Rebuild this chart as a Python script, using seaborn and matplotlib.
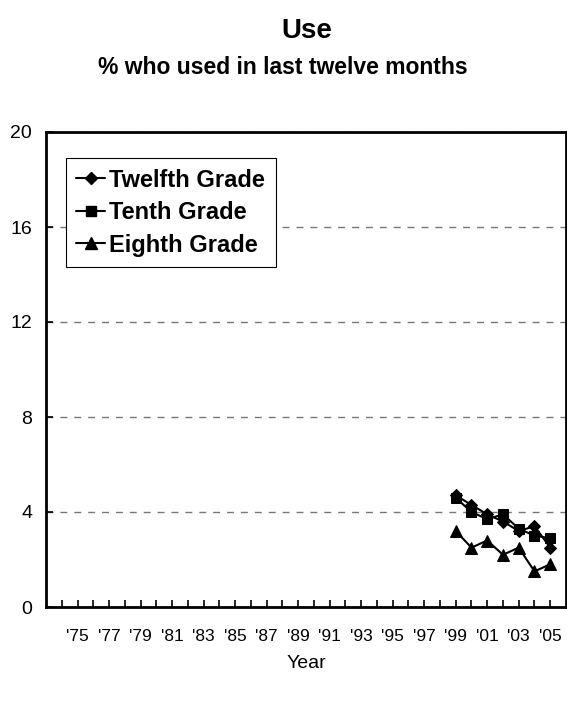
import matplotlib
matplotlib.use("Agg")
import matplotlib.pyplot as plt
import seaborn as sns
import pandas as pd
from matplotlib.lines import Line2D

years = [1999, 2000, 2001, 2002, 2003, 2004, 2005]
twelfth = [4.7, 4.3, 3.9, 3.6, 3.2, 3.4, 2.5]
tenth = [4.6, 4.0, 3.7, 3.9, 3.3, 3.0, 2.9]
eighth = [3.2, 2.5, 2.8, 2.2, 2.5, 1.5, 1.8]
series_names = ["Twelfth Grade", "Tenth Grade", "Eighth Grade"]
tick_years = list(range(1975, 2006, 2))
tick_labels = ["'%02d" % (y % 100) for y in tick_years]

sns.set_style("white")
plt.rcParams['font.family'] = ['Liberation Sans', 'DejaVu Sans']
plt.rcParams['text.color'] = 'black'
plt.rcParams['axes.labelcolor'] = 'black'
plt.rcParams['xtick.color'] = 'black'
plt.rcParams['ytick.color'] = 'black'

rows = []
for name, vals in zip(series_names, [twelfth, tenth, eighth]):
    for y, v in zip(years, vals):
        rows.append({"Year": y, "Value": v, "Grade": name})
df = pd.DataFrame(rows)

fig = plt.figure(figsize=(5.67, 7.02), dpi=100)
ax = fig.add_axes([46/567, 1-607/702, 520/567, 475/702])

markers = {"Twelfth Grade": "D", "Tenth Grade": "s", "Eighth Grade": "^"}
sizes_ms = {"Twelfth Grade": 6.5, "Tenth Grade": 7.5, "Eighth Grade": 8.5}
sns.lineplot(data=df, x="Year", y="Value", style="Grade", markers=markers,
             dashes=False, color="black", linewidth=1.5, markersize=7,
             markeredgecolor="black", ax=ax, legend=False)
for line, name in zip(ax.get_lines(), series_names):
    line.set_markersize(sizes_ms[name])

ax.set_xlim(1973, 2006)
ax.set_ylim(0, 20)
ax.set_yticks([0, 4, 8, 12, 16, 20])
ax.set_xticks(list(range(1974, 2006)), minor=True)
ax.set_xticks(tick_years)
ax.set_xticklabels(tick_labels)
ax.tick_params(axis='x', which='both', direction='in', length=5, width=1.2,
               labelsize=12.5, pad=16, color='black', bottom=True)
ax.tick_params(axis='y', direction='in', length=5, width=1.2, labelsize=14,
               pad=10, color='black', left=True)
ax.yaxis.grid(True, linestyle=(0, (5, 5)), color='#777777', linewidth=1)
ax.set_axisbelow(True)
for s in ax.spines.values():
    s.set_color('black')
    s.set_linewidth(2)
ax.set_xlabel("Year", fontsize=14, labelpad=8)
ax.set_ylabel("")

handles = [Line2D([], [], color='black', lw=1.5, marker=markers[n],
                  markersize=sizes_ms[n] - 0.5) for n in series_names]
leg = ax.legend(handles, series_names, loc='upper left',
                bbox_to_anchor=(0.038, 0.945), frameon=True, fancybox=False,
                edgecolor='black', framealpha=1, handlelength=1.2,
                handletextpad=0.2, borderpad=0.45, labelspacing=0.4,
                borderaxespad=0, prop={'weight': 'bold', 'size': 17})
leg.get_frame().set_linewidth(0.8)

fig.text(307/567, 1-31/702, "Use", ha='center', va='center', fontsize=20,
         fontweight='bold')
fig.text(283/567, 1-68/702, "% who used in last twelve months", ha='center',
         va='center', fontsize=16.5, fontweight='bold')

fig.savefig("out.png", dpi=100)
